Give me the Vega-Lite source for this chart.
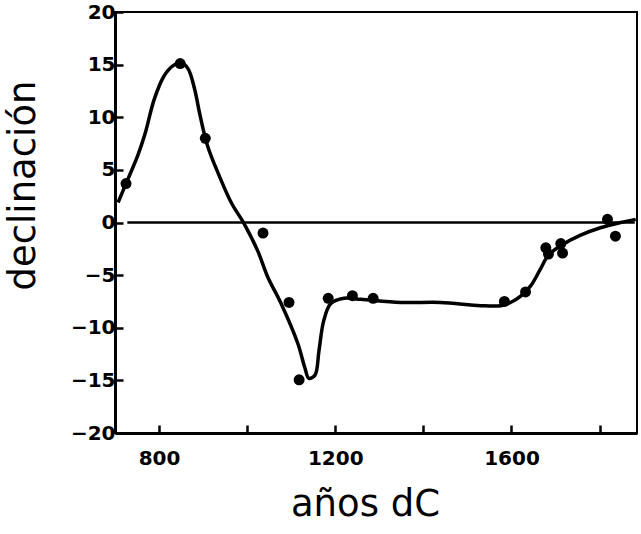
{
  "$schema": "https://vega.github.io/schema/vega-lite/v6.json",
  "autosize": "none",
  "width": 522,
  "height": 421,
  "padding": {"left": 115, "top": 12, "right": 4, "bottom": 101},
  "background": "white",
  "config": {
    "font": "DejaVu Sans",
    "view": {"stroke": "black", "strokeWidth": 2},
    "axis": {
      "grid": false,
      "domainColor": "black",
      "domainWidth": 3,
      "tickColor": "black",
      "tickWidth": 2.5,
      "tickSize": -8,
      "labelColor": "black",
      "labelFont": "DejaVu Sans",
      "labelFontWeight": "bold",
      "labelFontSize": 20,
      "titleColor": "black",
      "titleFont": "DejaVu Sans",
      "titleFontWeight": "normal",
      "titleFontSize": 37
    }
  },
  "datasets": {
    "zero": [
      {"year": 728, "year2": 1880, "decl": 0}
    ],
    "curve": [
      {"year": 707, "decl": 1.9},
      {"year": 725, "decl": 3.7},
      {"year": 752, "decl": 6.4},
      {"year": 768, "decl": 8.4},
      {"year": 789, "decl": 11.7},
      {"year": 811, "decl": 13.9},
      {"year": 832, "decl": 14.9},
      {"year": 850, "decl": 15.2},
      {"year": 866, "decl": 14.6},
      {"year": 880, "decl": 12.8},
      {"year": 893, "decl": 10.2},
      {"year": 910, "decl": 7.3},
      {"year": 936, "decl": 4.5},
      {"year": 965, "decl": 1.8},
      {"year": 993, "decl": -0.1},
      {"year": 1024, "decl": -2.7},
      {"year": 1047, "decl": -5.2},
      {"year": 1077, "decl": -7.7},
      {"year": 1115, "decl": -11.5},
      {"year": 1131, "decl": -13.8},
      {"year": 1140, "decl": -14.8},
      {"year": 1154, "decl": -14.5},
      {"year": 1163, "decl": -12.2},
      {"year": 1174, "decl": -9.3},
      {"year": 1190, "decl": -7.7},
      {"year": 1220, "decl": -7.2},
      {"year": 1258, "decl": -7.3},
      {"year": 1349, "decl": -7.6},
      {"year": 1439, "decl": -7.6},
      {"year": 1530, "decl": -7.9},
      {"year": 1576, "decl": -7.9},
      {"year": 1598, "decl": -7.6},
      {"year": 1621, "decl": -7.0},
      {"year": 1644, "decl": -6.0},
      {"year": 1666, "decl": -4.4},
      {"year": 1684, "decl": -3.1},
      {"year": 1712, "decl": -2.2},
      {"year": 1757, "decl": -1.2},
      {"year": 1802, "decl": -0.5},
      {"year": 1848, "decl": 0.0},
      {"year": 1882, "decl": 0.3}
    ],
    "pts": [
      {"year": 725, "decl": 3.7},
      {"year": 848, "decl": 15.1},
      {"year": 905, "decl": 8.0},
      {"year": 1036, "decl": -1.0},
      {"year": 1095, "decl": -7.6},
      {"year": 1118, "decl": -14.95},
      {"year": 1184, "decl": -7.2},
      {"year": 1239, "decl": -6.95},
      {"year": 1286, "decl": -7.2},
      {"year": 1584, "decl": -7.5},
      {"year": 1632, "decl": -6.6},
      {"year": 1678, "decl": -2.4},
      {"year": 1684, "decl": -3.0},
      {"year": 1712, "decl": -2.0},
      {"year": 1716, "decl": -2.9},
      {"year": 1818, "decl": 0.3},
      {"year": 1836, "decl": -1.3}
    ]
  },
  "encoding": {
    "x": {
      "field": "year",
      "type": "quantitative",
      "scale": {"domain": [700, 1885], "nice": false, "zero": false},
      "axis": {
        "title": "años dC",
        "values": [800, 1000, 1200, 1400, 1600, 1800],
        "format": "d",
        "labelExpr": "datum.value % 400 == 0 ? datum.label : ''",
        "labelPadding": 23,
        "titleX": 250,
        "titleY": 82,
        "titleAlign": "center",
        "titleBaseline": "alphabetic"
      }
    },
    "y": {
      "field": "decl",
      "type": "quantitative",
      "scale": {"domain": [-20, 20], "nice": false, "zero": false},
      "axis": {
        "title": "declinación",
        "values": [-20, -15, -10, -5, 0, 5, 10, 15, 20],
        "format": "d",
        "labelPadding": 8,
        "titleAngle": 270,
        "titleX": -81,
        "titleY": 173,
        "titleAlign": "center",
        "titleBaseline": "alphabetic"
      }
    }
  },
  "layer": [
    {
      "data": {"name": "zero"},
      "mark": {"type": "rule", "color": "black", "strokeWidth": 2.5},
      "encoding": {
        "x2": {"field": "year2"}
      }
    },
    {
      "data": {"name": "curve"},
      "mark": {"type": "line", "color": "black", "strokeWidth": 3.5, "interpolate": "catmull-rom"}
    },
    {
      "data": {"name": "pts"},
      "mark": {"type": "circle", "color": "black", "opacity": 1, "size": 120}
    }
  ]
}
